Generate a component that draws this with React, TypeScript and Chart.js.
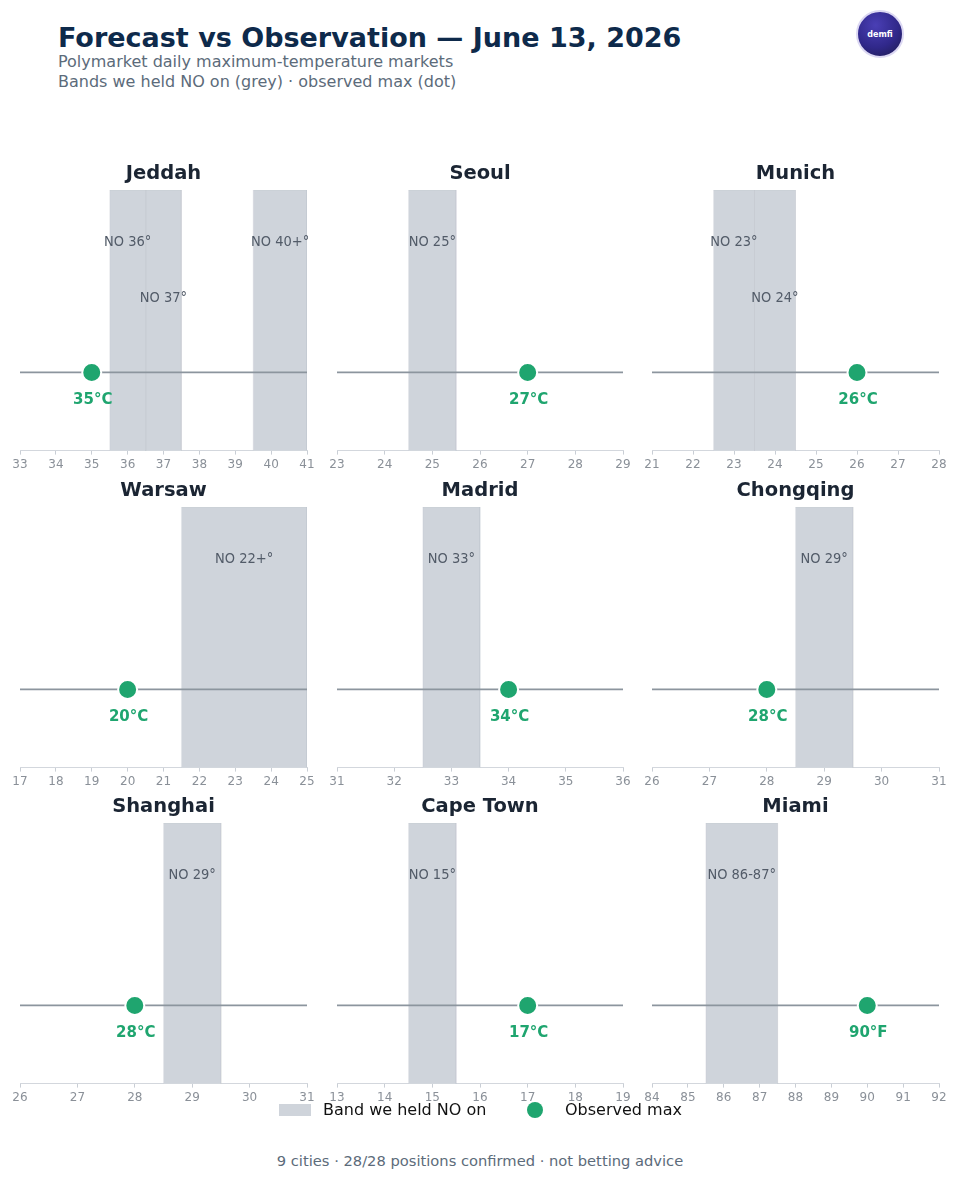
import React, { useEffect, useRef } from "react";
import { Chart, registerables } from "chart.js";

Chart.register(...registerables);

const cities = ["Jeddah", "Seoul", "Munich", "Warsaw", "Madrid", "Chongqing", "Shanghai", "Cape Town", "Miami"];
const axisMin = [33, 23, 21, 17, 31, 26, 26, 13, 84];
const axisMax = [41, 29, 28, 25, 36, 31, 31, 19, 92];
const observed = [35, 27, 26, 20, 34, 28, 28, 17, 90];
const units = ["°C", "°C", "°C", "°C", "°C", "°C", "°C", "°C", "°F"];
const bandLo = [[35.5, 36.5, 39.5], [24.5], [22.5, 23.5], [21.5], [32.5], [28.5], [28.5], [14.5], [85.5]];
const bandHi = [[36.5, 37.5, 41], [25.5], [23.5, 24.5], [25], [33.5], [29.5], [29.5], [15.5], [87.5]];
const bandLabels = [
  ["NO 36°", "NO 37°", "NO 40+°"],
  ["NO 25°"],
  ["NO 23°", "NO 24°"],
  ["NO 22+°"],
  ["NO 33°"],
  ["NO 29°"],
  ["NO 29°"],
  ["NO 15°"],
  ["NO 86-87°"],
];
const bandLabelY = [[0.8, 0.585, 0.8], [0.8], [0.8, 0.585], [0.8], [0.8], [0.8], [0.8], [0.8], [0.8]];
const lineY = 0.3;
const dotLabelY = 0.195;

const BAND = "#cfd4db";
const GREEN = "#1fa56f";
const FONT = "'DejaVu Sans', sans-serif";
const COND = "'DejaVu Sans Condensed', 'DejaVu Sans', sans-serif";

const colLeft = [5, 322, 637];
const colWidth = [317, 316, 317];
const rowTop = [158, 475, 791];
const canvasH = 321;

const labelPlugin = {
  id: "panelLabels",
  afterDatasetsDraw(chart: any) {
    const idx = chart.options.plugins.panelLabels.idx;
    const { ctx, scales } = chart;
    const x = scales.x;
    const y = scales.y;
    ctx.save();
    ctx.textAlign = "center";
    ctx.textBaseline = "middle";
    ctx.font = "14.5px " + COND;
    ctx.fillStyle = "#525b68";
    bandLabels[idx].forEach((t, j) => {
      const cx = (bandLo[idx][j] + bandHi[idx][j]) / 2;
      ctx.fillText(t, x.getPixelForValue(cx), y.getPixelForValue(bandLabelY[idx][j]));
    });
    ctx.font = "bold 15px " + FONT;
    ctx.fillStyle = GREEN;
    ctx.fillText(observed[idx] + units[idx], x.getPixelForValue(observed[idx]) + 1, y.getPixelForValue(dotLabelY));
    ctx.restore();
  },
};

function Panel({ idx }: { idx: number }) {
  const ref = useRef<HTMLCanvasElement>(null);
  useEffect(() => {
    const datasets: any[] = [];
    datasets.push({
      type: "scatter",
      data: [{ x: observed[idx], y: lineY }],
      pointRadius: 9.5,
      pointBackgroundColor: GREEN,
      pointBorderColor: "#ffffff",
      pointBorderWidth: 2,
      order: 0,
    });
    datasets.push({
      type: "line",
      data: [
        { x: axisMin[idx], y: lineY },
        { x: axisMax[idx], y: lineY },
      ],
      borderColor: "#8c959e",
      borderWidth: 1.6,
      pointRadius: 0,
      fill: false,
      order: 1,
    });
    bandLo[idx].forEach((lo, j) => {
      const hi = bandHi[idx][j];
      datasets.push({
        type: "line",
        data: [
          { x: lo, y: 0 },
          { x: lo, y: 1 },
          { x: hi, y: 1 },
          { x: hi, y: 0 },
        ],
        borderColor: "rgba(175,182,192,0.2)",
        borderWidth: 1,
        backgroundColor: BAND,
        fill: "start",
        pointRadius: 0,
        tension: 0,
        order: 2,
      });
    });
    const ticks: number[] = [];
    for (let v = axisMin[idx]; v <= axisMax[idx]; v++) ticks.push(v);
    const chart = new Chart(ref.current as HTMLCanvasElement, {
      type: "line",
      data: { datasets },
      plugins: [labelPlugin],
      options: {
        animation: false,
        responsive: false,
        maintainAspectRatio: false,
        layout: { padding: { left: 15, right: 15, top: 4, bottom: 4 } },
        scales: {
          x: {
            type: "linear",
            min: axisMin[idx],
            max: axisMax[idx],
            afterBuildTicks: (axis: any) => {
              axis.ticks = ticks.map((v) => ({ value: v }));
            },
            ticks: {
              color: "#8a9098",
              font: { size: 12, family: FONT },
              padding: 3,
              maxRotation: 0,
              autoSkip: false,
            },
            grid: { display: true, drawOnChartArea: false, drawTicks: true, tickLength: 4, color: "#c9ced5" },
            border: { display: true, color: "#d3d7dd", width: 1 },
          },
          y: { type: "linear", min: 0, max: 1, display: false },
        },
        plugins: {
          legend: { display: false },
          tooltip: { enabled: false },
          title: {
            display: true,
            text: cities[idx],
            color: "#1b2533",
            font: { size: 19.5, weight: "bold", family: FONT },
            padding: { top: 0, bottom: 4.5 },
          },
          panelLabels: { idx },
        } as any,
      },
    } as any);
    return () => chart.destroy();
  }, [idx]);
  const r = Math.floor(idx / 3);
  const c = idx % 3;
  return (
    <canvas
      ref={ref}
      width={colWidth[c]}
      height={canvasH}
      style={{ position: "absolute", left: colLeft[c], top: rowTop[r], width: colWidth[c], height: canvasH }}
    />
  );
}

export default function App() {
  return (
    <div
      style={{
        position: "absolute",
        left: 0,
        top: 0,
        width: 960,
        height: 1200,
        background: "#ffffff",
        fontFamily: FONT,
        overflow: "hidden",
      }}
    >
      <div style={{ position: "absolute", left: 58, top: 20, fontSize: 27, fontWeight: "bold", color: "#0e2a4b", whiteSpace: "nowrap", lineHeight: "36px" }}>
        Forecast vs Observation — June 13, 2026
      </div>
      <div style={{ position: "absolute", left: 58, top: 52, fontSize: 16, color: "#5c6b7a", whiteSpace: "nowrap", lineHeight: "20px" }}>
        Polymarket daily maximum-temperature markets
      </div>
      <div style={{ position: "absolute", left: 58, top: 72, fontSize: 16, color: "#5c6b7a", whiteSpace: "nowrap", lineHeight: "20px" }}>
        Bands we held NO on (grey) · observed max (dot)
      </div>
      <div
        style={{
          position: "absolute",
          left: 856,
          top: 10,
          width: 44,
          height: 44,
          borderRadius: "50%",
          background: "radial-gradient(circle at 40% 30%, #4a3fb5 0%, #30288a 55%, #1c1a4a 100%)",
          border: "2px solid #dcd8f3",
          display: "flex",
          alignItems: "center",
          justifyContent: "center",
          color: "#ffffff",
          fontSize: 8,
          fontWeight: "bold",
        }}
      >
        demfi
      </div>
      {cities.map((_, i) => (
        <Panel key={i} idx={i} />
      ))}
      <div style={{ position: "absolute", left: 279, top: 1104, width: 32, height: 12, background: BAND }} />
      <div style={{ position: "absolute", left: 323, top: 1100, fontSize: 16, color: "#111111", whiteSpace: "nowrap", lineHeight: "20px" }}>
        Band we held NO on
      </div>
      <div style={{ position: "absolute", left: 527, top: 1102, width: 16, height: 16, borderRadius: "50%", background: GREEN }} />
      <div style={{ position: "absolute", left: 565, top: 1100, fontSize: 16, color: "#111111", whiteSpace: "nowrap", lineHeight: "20px" }}>
        Observed max
      </div>
      <div style={{ position: "absolute", left: 0, width: 960, top: 1151, textAlign: "center", fontSize: 14.7, color: "#5c6b7a", lineHeight: "20px" }}>
        9 cities · 28/28 positions confirmed · not betting advice
      </div>
    </div>
  );
}
